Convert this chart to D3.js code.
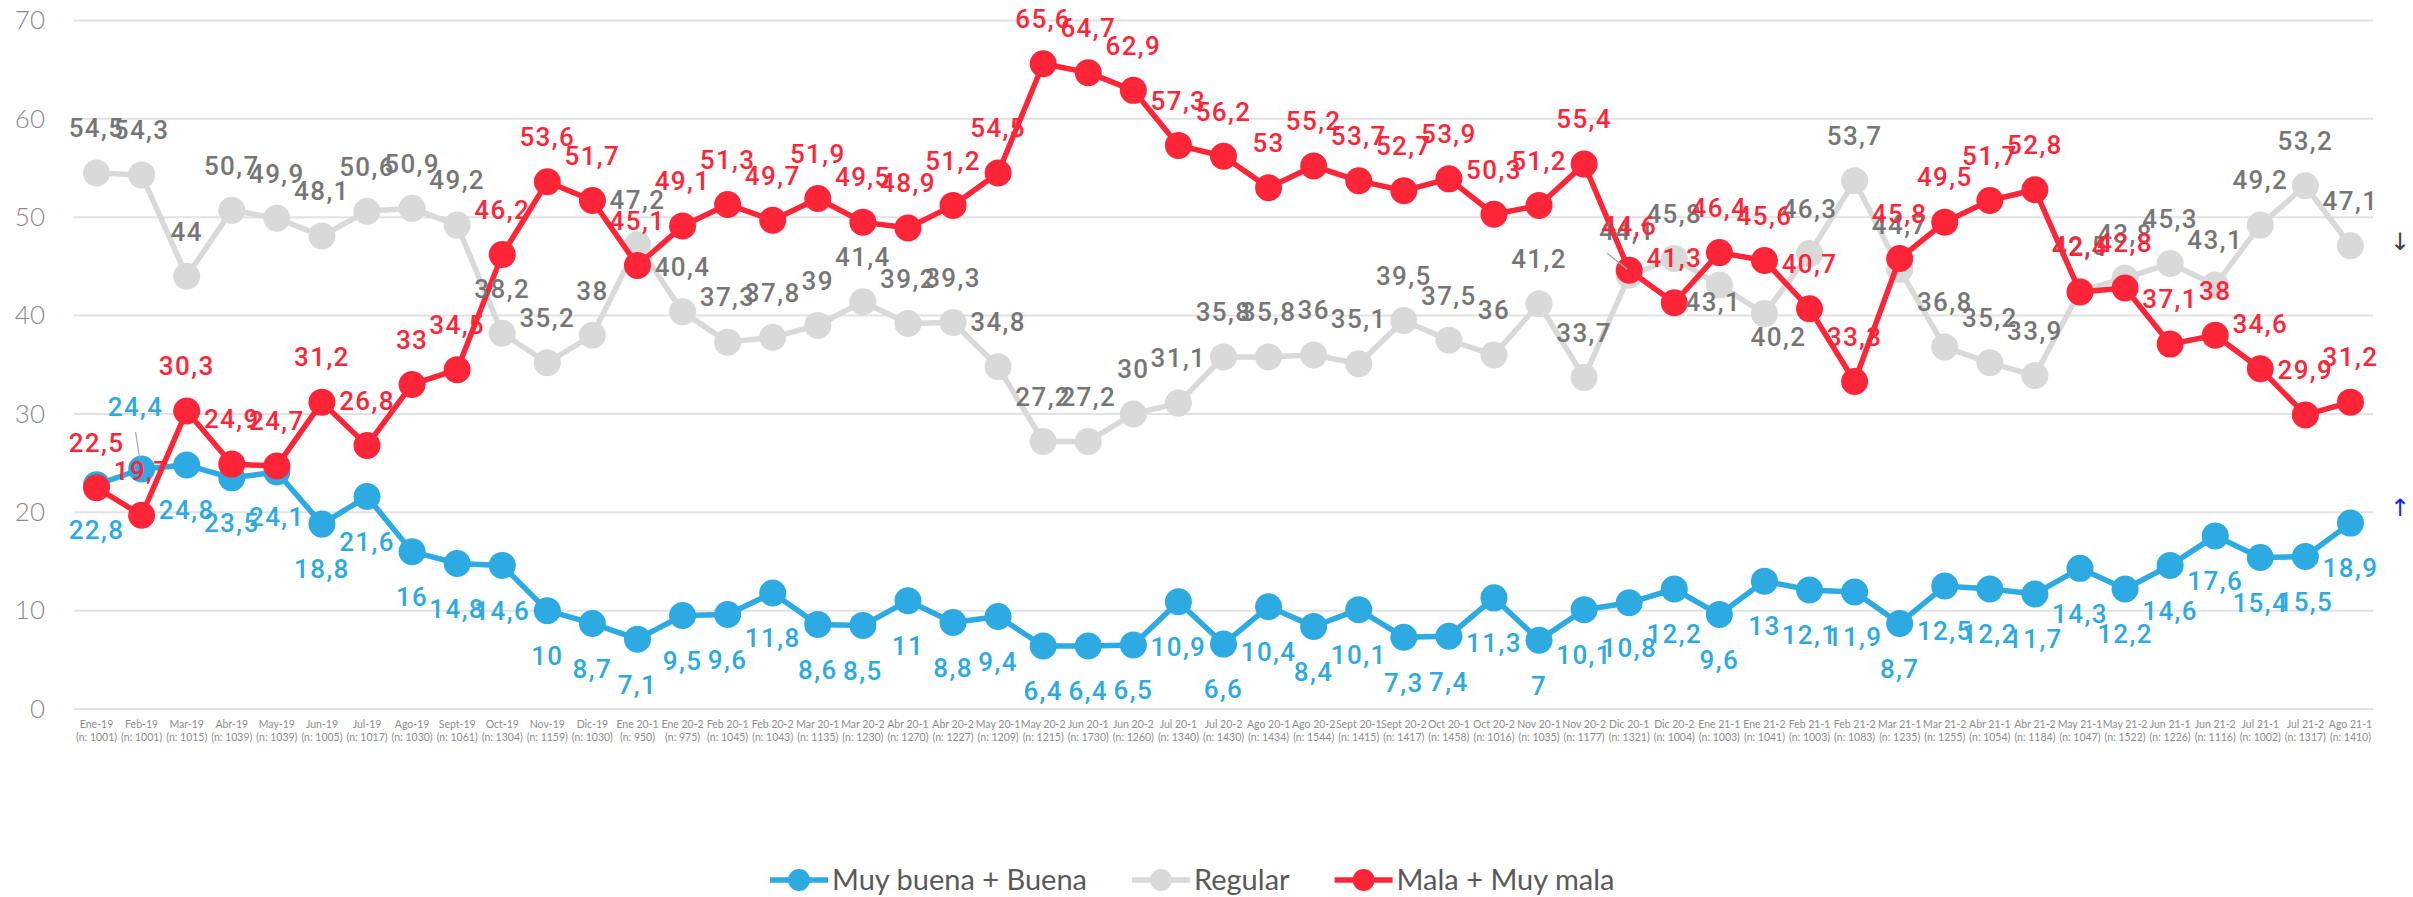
<!DOCTYPE html>
<html><head><meta charset="utf-8">
<script src="https://cdn.jsdelivr.net/npm/d3@7"></script>
<style>body{margin:0;background:#fff;} svg{display:block;}</style>
</head><body>
<svg id="chart" width="2413" height="897"></svg>
<script>
const categories = ["Ene-19","Feb-19","Mar-19","Abr-19","May-19","Jun-19","Jul-19","Ago-19","Sept-19","Oct-19","Nov-19","Dic-19",
  "Ene 20-1","Ene 20-2","Feb 20-1","Feb 20-2","Mar 20-1","Mar 20-2","Abr 20-1","Abr 20-2","May 20-1","May 20-2","Jun 20-1","Jun 20-2",
  "Jul 20-1","Jul 20-2","Ago 20-1","Ago 20-2","Sept 20-1","Sept 20-2","Oct 20-1","Oct 20-2","Nov 20-1","Nov 20-2","Dic 20-1","Dic 20-2",
  "Ene 21-1","Ene 21-2","Feb 21-1","Feb 21-2","Mar 21-1","Mar 21-2","Abr 21-1","Abr 21-2","May 21-1","May 21-2","Jun 21-1","Jun 21-2",
  "Jul 21-1","Jul 21-2","Ago 21-1"];
const sampleSizes = ["1001","1001","1015","1039","1039","1005","1017","1030","1061","1304","1159","1030",
  "950","975","1045","1043","1135","1230","1270","1227","1209","1215","1730","1260",
  "1340","1430","1434","1544","1415","1417","1458","1016","1035","1177","1321","1004",
  "1003","1041","1003","1083","1235","1255","1054","1184","1047","1522","1226","1116",
  "1002","1317","1410"];
const muyBuenaBuena = [22.8,24.4,24.8,23.5,24.1,18.8,21.6,16,14.8,14.6,10,8.7,
  7.1,9.5,9.6,11.8,8.6,8.5,11,8.8,9.4,6.4,6.4,6.5,
  10.9,6.6,10.4,8.4,10.1,7.3,7.4,11.3,7,10.1,10.8,12.2,
  9.6,13,12.1,11.9,8.7,12.5,12.2,11.7,14.3,12.2,14.6,17.6,
  15.4,15.5,18.9];
const regular = [54.5,54.3,44,50.7,49.9,48.1,50.6,50.9,49.2,38.2,35.2,38,
  47.2,40.4,37.3,37.8,39,41.4,39.2,39.3,34.8,27.2,27.2,30,
  31.1,35.8,35.8,36,35.1,39.5,37.5,36,41.2,33.7,44.1,45.8,
  43.1,40.2,46.3,53.7,44.7,36.8,35.2,33.9,42.5,43.8,45.3,43.1,
  49.2,53.2,47.1];
const malaMuyMala = [22.5,19.7,30.3,24.9,24.7,31.2,26.8,33,34.5,46.2,53.6,51.7,
  45.1,49.1,51.3,49.7,51.9,49.5,48.9,51.2,54.5,65.6,64.7,62.9,
  57.3,56.2,53,55.2,53.7,52.7,53.9,50.3,51.2,55.4,44.6,41.3,
  46.4,45.6,40.7,33.3,45.8,49.5,51.7,52.8,42.4,42.8,37.1,38,
  34.6,29.9,31.2];
const yTicks = [0,10,20,30,40,50,60,70];
const seriesNames = ["Muy buena + Buena","Regular","Mala + Muy mala"];

(function draw() {
const svg = d3.select("#chart");
const pLeft = 74, pRight = 2373, pTop = 20.5, pBottom = 709;
const x = d3.scaleBand().domain(categories).range([pLeft, pRight]).padding(0);
const cx = c => x(c) + x.bandwidth() / 2;
const y = d3.scaleLinear().domain([0, 70]).range([pBottom, pTop]);
const fmt = v => String(v).replace(".", ",");

// gridlines
svg.append("g").selectAll("line").data(yTicks).join("line")
  .attr("x1", pLeft).attr("x2", pRight)
  .attr("y1", d => y(d)).attr("y2", d => y(d))
  .attr("stroke", "#e2e2e2").attr("stroke-width", 2);

// y axis
const yAxis = svg.append("g").attr("transform", `translate(${pLeft},0)`)
  .call(d3.axisLeft(y).tickValues(yTicks).tickSize(0).tickPadding(29));
yAxis.select(".domain").remove();
yAxis.selectAll("text").attr("font-family", "Lato").attr("font-weight", 300)
  .attr("font-size", 26).attr("fill", "#8a8a8a");

// x axis
const xAxis = svg.append("g").attr("transform", `translate(0,${pBottom})`)
  .call(d3.axisBottom(x).tickSize(0).tickPadding(0));
xAxis.select(".domain").remove();
xAxis.selectAll("text").each(function(d, i) {
  const t = d3.select(this).text(null).attr("font-family", "Lato").attr("font-size", 10.5)
    .attr("fill", "#8c8c8c").attr("y", 0).attr("dy", null);
  t.append("tspan").attr("x", 0).attr("y", 19).text(d);
  t.append("tspan").attr("x", 0).attr("y", 32).text(`(n: ${sampleSizes[i]})`);
});

const series = [
  {name: seriesNames[0], values: muyBuenaBuena, color: "#2CAAE1", label: "#2CAAE1", pos: 1},
  {name: seriesNames[1], values: regular, color: "#D9D9D9", label: "#767676", pos: -1},
  {name: seriesNames[2], values: malaMuyMala, color: "#FF2538", label: "#FF2538", pos: -1}
];

const line = d3.line().x((d, i) => cx(categories[i])).y(d => y(d));
series.forEach(s => {
  const g = svg.append("g");
  g.append("path").datum(s.values).attr("d", line).attr("fill", "none")
    .attr("stroke", s.color).attr("stroke-width", 5.5).attr("stroke-linejoin", "round");
  g.selectAll("circle").data(s.values).join("circle")
    .attr("cx", (d, i) => cx(categories[i])).attr("cy", d => y(d)).attr("r", 13.5)
    .attr("fill", s.color);
});

// label overrides (series index - point index)
const overrides = {
  "0-1": {dx: -6, dy: -62, leader: [0, 25, 0, -10]},
  "1-34": {dx: -2, dy: -45, leader: [-20, 23, 0, -6]},
  "1-36": {dx: -6, dy: 17},
  "1-37": {dx: 14, dy: 23}
};
series.forEach((s, si) => {
  const g = svg.append("g");
  s.values.forEach((v, i) => {
    const o = overrides[`${si}-${i}`] || {dx: 0, dy: 45 * s.pos};
    const px = cx(categories[i]), py = y(v);
    const lx = px + o.dx, ly = py + o.dy;
    if (o.leader) {
      g.append("line").attr("x1", lx + o.leader[0]).attr("y1", ly + o.leader[1])
        .attr("x2", px + o.leader[2] - 2).attr("y2", py + o.leader[3])
        .attr("stroke", "#a6a6a6").attr("stroke-width", 1.2);
    }
    g.append("text").attr("x", lx).attr("y", ly).attr("dy", "0.36em")
      .attr("text-anchor", "middle").attr("font-family", "Roboto").attr("font-weight", 500)
      .attr("font-size", 26).attr("letter-spacing", 1.4).attr("fill", s.label).text(fmt(v));
  });
});

// arrows on the right
svg.append("text").attr("x", 2400).attr("y", y(47.5)).attr("dy", "0.35em").attr("text-anchor", "middle")
  .attr("font-family", "DejaVu Sans").attr("font-size", 24).attr("fill", "#404040").text("↓");
svg.append("text").attr("x", 2400).attr("y", y(20.5)).attr("dy", "0.35em").attr("text-anchor", "middle")
  .attr("font-family", "DejaVu Sans").attr("font-size", 24).attr("fill", "#1a1aff").text("↑");

// legend
const legend = svg.append("g").attr("transform", "translate(770,880)");
let lxPos = 0;
series.forEach(s => {
  const item = legend.append("g").attr("transform", `translate(${lxPos},0)`);
  item.append("line").attr("x1", 0).attr("x2", 58).attr("y1", 0).attr("y2", 0)
    .attr("stroke", s.color).attr("stroke-width", 5.5);
  item.append("circle").attr("cx", 29).attr("cy", 0).attr("r", 11).attr("fill", s.color);
  const t = item.append("text").attr("x", 62).attr("y", 0).attr("dy", "0.35em")
    .attr("font-family", "Lato").attr("font-size", 29).attr("fill", "#595959").text(s.name);
  lxPos += 62 + t.node().getComputedTextLength() + 45;
});
})();
</script>
</body></html>
